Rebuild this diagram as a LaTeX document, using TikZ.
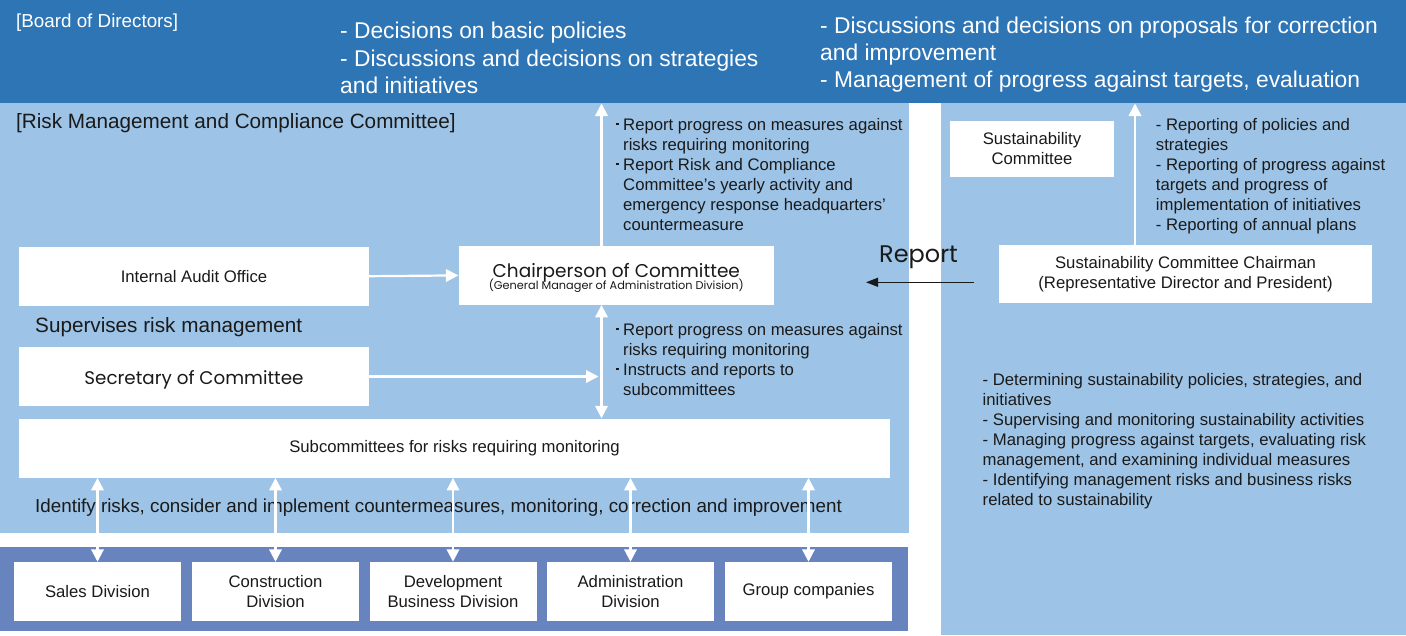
\documentclass[tikz,border=0pt]{standalone}
\usepackage{fontspec}
\setmainfont{Liberation Sans}
\newfontfamily\popfont{Poppins}
\usepackage{tikz}
\usetikzlibrary{arrows.meta, positioning}

\definecolor{boardblue}{HTML}{2E75B6}
\definecolor{paneblue}{HTML}{9DC3E6}
\definecolor{divblue}{HTML}{6784BF}
\definecolor{inkgray}{HTML}{1A1A1A}

\newcommand{\tightskip}{\setlength{\lineskiplimit}{-50pt}}
\newcommand{\bodyfont}{\fontsize{16.7}{20}\selectfont\tightskip}
\newcommand{\dotitem}{\makebox[7pt][l]{\raisebox{4.6pt}{\rule{2.6pt}{2.6pt}}}}
\newcommand{\dotcont}{\hspace*{7pt}}

\begin{document}
\begin{tikzpicture}[x=1pt, y=-1pt,
				>={Triangle[length=12.5pt, width=12.5pt]},
				wbox/.style={fill=white, inner sep=0pt, align=center, text=inkgray, font=\bodyfont},
				note/.style={anchor=base west, inner sep=0pt, align=left, text=inkgray, font=\bodyfont},
				warr/.style={white, line width=2.2pt}]

				\useasboundingbox (0,0) rectangle (1406,635);
				\fill[boardblue] (0,0) rectangle (1406,103);
				\fill[paneblue] (0,103) rectangle (909,533);
				\fill[paneblue] (941,103) rectangle (1406,635);
				\fill[divblue] (0,547) rectangle (908,631);

				% board of directors (multi-line notes sit on their last baseline)
				\node[note, text=white, font={\fontsize{18.8}{22}\selectfont}] (bodtitle) at (16,27.7) {[Board of Directors]};
				\node[note, text=white, font={\fontsize{22.8}{27.2}\selectfont\tightskip}] (bodleft) at (340,93.3) {- Decisions on basic policies\\- Discussions and decisions on strategies\\and initiatives};
				\node[note, text=white, font={\fontsize{22.8}{27}\selectfont\tightskip}] (bodright) at (820,87.3) {- Discussions and decisions on proposals for correction\\and improvement\\- Management of progress against targets, evaluation};

				% risk management and compliance committee
				\node[note, font={\fontsize{20.7}{24}\selectfont}] (rmtitle) at (16,128.3) {[Risk Management and Compliance Committee]};
				\node[wbox, minimum width=350pt, minimum height=59pt] (audit) at (194,276.2) {Internal Audit Office};
				\node[wbox, minimum width=315.4pt, minimum height=58.7pt, font={\popfont\fontsize{11.3}{12.3}\selectfont\tightskip}] (chair) at (616.3,275.4) {{\fontsize{18.5}{12.3}\selectfont\rule{0pt}{19.7pt}Chairperson of Committee}\\(General Manager of Administration Division)};
				\node[note, font={\fontsize{20.7}{24}\selectfont}] (supervise) at (35,332.3) {Supervises risk management};
				\node[wbox, minimum width=350pt, minimum height=58.4pt, font={\popfont\fontsize{18.3}{22}\selectfont}] (sec) at (194,376.5) {\rule{0pt}{20.5pt}Secretary of Committee};
				\node[wbox, minimum width=871pt, minimum height=59.2pt] (sub) at (454.5,448.1) {Subcommittees for risks requiring monitoring};
				\node[note, font={\fontsize{18.8}{22}\selectfont}] (identify) at (35,512.5) {Identify risks, consider and implement countermeasures, monitoring, correction and improvement};

				\node[note] (upnote) at (616,230) {\dotitem Report progress on measures against\\\dotcont risks requiring monitoring\\\dotitem Report Risk and Compliance\\\dotcont Committee’s yearly activity and\\\dotcont emergency response headquarters’\\\dotcont countermeasure};
				\node[note] (downnote) at (616,395) {\dotitem Report progress on measures against\\\dotcont risks requiring monitoring\\\dotitem Instructs and reports to\\\dotcont subcommittees};

				\coordinate (vx) at (601.5,103.5);
				\draw[warr, ->] (chair.north -| vx) -- (vx);
				\draw[warr, <->] (chair.south -| vx) -- (sub.north -| vx);
				\draw[warr, ->] (audit.east) -- (chair.west);
				\draw[warr, ->] (sec.east) -- ([xshift=-3pt]sec.east -| vx);

				% divisions
				\foreach \name/\cx/\label in {sales/97.5/Sales Division,
						cons/275.5/{Construction\\Division},
						dev/453/{Development\\Business Division},
						admin/630.5/{Administration\\Division},
						group/808.5/Group companies}
					\node[wbox, minimum width=167pt, minimum height=58.7pt] (\name) at (\cx,591.3) {\label};
				\foreach \name in {sales, cons, dev, admin, group}
					\draw[warr, <->] (\name.north) -- (\name.north |- sub.south);

				% sustainability committee
				\node[wbox, minimum width=164pt, minimum height=55.7pt] (sust) at (1032,148.9) {Sustainability\\Committee};
				\node[wbox, minimum width=373pt, minimum height=58.3pt] (suchair) at (1185.5,274.2) {Sustainability Committee Chairman\\(Representative Director and President)};
				\node[note] (sunote) at (1155.7,230.3) {- Reporting of policies and\\strategies\\- Reporting of progress against\\targets and progress of\\implementation of initiatives\\- Reporting of annual plans};
				\node[note] (sutasks) at (982.5,505) {- Determining sustainability policies, strategies, and\\initiatives\\- Supervising and monitoring sustainability activities\\- Managing progress against targets, evaluating risk\\management, and examining individual measures\\- Identifying management risks and business risks\\related to sustainability};

				\coordinate (sx) at (1135,103.5);
				\draw[warr, ->] (suchair.north -| sx) -- (sx);

				\node[note, font={\popfont\fontsize{24}{28}\selectfont}] (report) at (879,262.3) {Report};
				\coordinate (rp1) at (974,282.3);
				\coordinate (rp2) at (866,282.3);
				\draw[->, >={Triangle[length=12pt, width=9pt]}, inkgray, line width=1.2pt] (rp1) -- (rp2);
			\end{tikzpicture}
\end{document}
